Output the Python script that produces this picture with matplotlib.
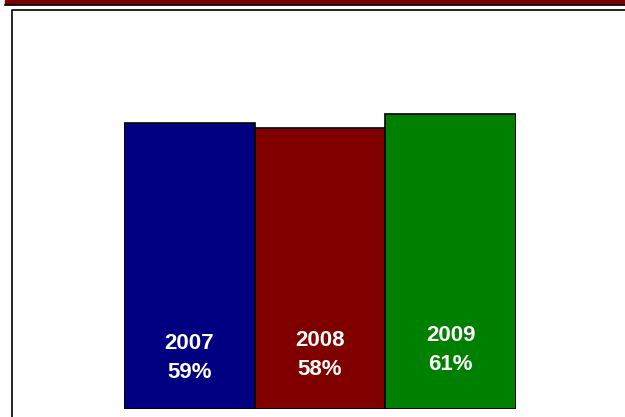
import matplotlib.pyplot as plt
from matplotlib.lines import Line2D
from matplotlib.patches import Rectangle

years = ["2007", "2008", "2009"]
values = [59, 58, 61]
colors = ["#000080", "#800000", "#008000"]

# label heights (data units) inside the bars
label_y = [10.6, 11.1, 12.1]

W, H = 625, 417
fig = plt.figure(figsize=(6.25, 4.17), dpi=100)

# top band
fig.patches.append(Rectangle((5 / W, 1 - 4 / H), 1, 4 / H,
                             transform=fig.transFigure, color="#7a0000"))
fig.lines.append(Line2D([5 / W, 1], [1 - 4.5 / H, 1 - 4.5 / H],
                        transform=fig.transFigure, color="black", lw=1.2))

# frame
fig.lines.append(Line2D([11.5 / W, 11.5 / W, 1], [0, 1 - 10 / H, 1 - 10 / H],
                        transform=fig.transFigure, color="black", lw=1.2))

ax = fig.add_axes([124 / W, 8 / H, 392 / W, 399 / H])
x = range(len(values))
ax.bar(x, values, width=1.0, color=colors, edgecolor="black", linewidth=1.2)
ax.set_xlim(-0.5, 2.5)
ax.set_ylim(0, 399 / 4.84)
ax.axis("off")

for i, v in enumerate(values):
    ax.text(i, label_y[i], years[i] + "\n" + str(v) + "%", ha="center", va="center",
            color="white", fontsize=16, fontweight="bold", family="Liberation Sans",
            linespacing=1.5)

fig.savefig("out.png", dpi=100)
